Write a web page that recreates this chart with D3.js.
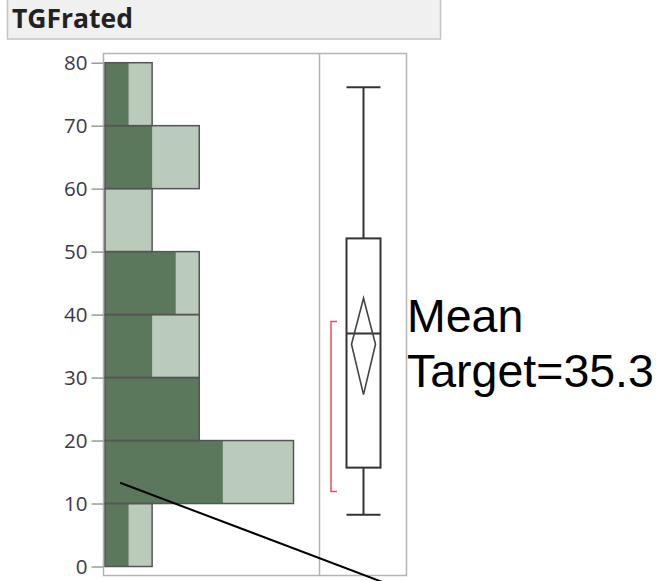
<!DOCTYPE html>
<html>
<head>
<meta charset="utf-8">
<script src="https://cdn.jsdelivr.net/npm/d3@7"></script>
<style>
  html, body { margin: 0; padding: 0; background: #fff; }
  svg { display: block; }
</style>
</head>
<body>
<div id="chart"></div>
<script>
// histogram bins (lower edge), total counts and the highlighted part
var binStarts = [0, 10, 20, 30, 40, 50, 60, 70];
var binWidth = 10;
var totalCounts = [1, 4, 2, 2, 2, 1, 2, 1];
var selectedCounts = [0.5, 2.5, 2, 1, 1.5, 0, 1, 0.5];
var yTicks = [0, 10, 20, 30, 40, 50, 60, 70, 80];

// outlier box plot summary
var boxStats = ['min', 'q1', 'median', 'q3', 'max'];
var boxValues = [8.2, 15.7, 37, 52.1, 76.1];
var meanValue = 35.3;
var meanCI = [27.3, 42.6];
var shortestHalf = [11.9, 38.9];

// annotation
var titleText = 'TGFrated';
var noteLines = ['Mean', 'Target=35.3'];
var pointerFrom = [0.32, 13.3];   // [count, value]
var pointerTo = [5.9, -2.5];

var cfg = {
    w: 661,
    h: 581,
    frameLeft: 103.5,
    frameRight: 406.5,
    divider: 319.5,
    frameTop: 53.5,
    frameBottom: 575.5,
    boxCenter: 363.5,
    boxHalf: 17,
    diamondHalf: 12
};

var svg = d3.select('#chart').append('svg')
    .attr('width', cfg.w)
    .attr('height', cfg.h);

var y = d3.scaleLinear().domain([0, 80]).range([566.5, 62.7]);
var x = d3.scaleLinear().domain([0, 4]).range([105, 293.5]);

// title bar
svg.append('rect')
    .attr('x', 7.5).attr('y', -1)
    .attr('width', 433).attr('height', 40)
    .attr('fill', '#f0f0f0')
    .attr('stroke', '#c4c4c4')
    .attr('stroke-width', 1.5);
svg.append('text')
    .attr('x', 12).attr('y', 28)
    .attr('font-family', 'Open Sans, sans-serif')
    .attr('font-weight', 'bold')
    .attr('font-size', 26.5)
    .attr('fill', '#222')
    .text(titleText);

// frame
var frame = svg.append('g').attr('fill', 'none').attr('stroke', '#b4b4b4').attr('stroke-width', 1.5);
frame.append('rect')
    .attr('x', cfg.frameLeft).attr('y', cfg.frameTop)
    .attr('width', cfg.frameRight - cfg.frameLeft)
    .attr('height', cfg.frameBottom - cfg.frameTop);
frame.append('line')
    .attr('x1', cfg.divider).attr('x2', cfg.divider)
    .attr('y1', cfg.frameTop).attr('y2', cfg.frameBottom);

// y axis
var yAxis = d3.axisLeft(y).tickValues(yTicks).tickSize(12).tickPadding(4);
svg.append('g')
    .attr('transform', 'translate(' + cfg.frameLeft + ',0)')
    .call(customYAxis);

function customYAxis(g) {
    g.call(yAxis);
    g.select('.domain').remove();
    g.selectAll('.tick line').attr('stroke', '#9a9a9a').attr('stroke-width', 1.5);
    g.selectAll('.tick text')
        .attr('font-family', 'Open Sans, sans-serif')
        .attr('font-size', 20.5)
        .attr('fill', '#3a3a4a');
}

// histogram
var bins = binStarts.map(function(d, i) {
    return { lo: d, hi: d + binWidth, total: totalCounts[i], sel: selectedCounts[i] };
});

var hist = svg.append('g').classed('hist', true);
hist.selectAll('.total')
    .data(bins)
    .enter()
    .append('rect')
    .classed('total', true)
    .attr('x', x(0))
    .attr('y', function(d) { return y(d.hi); })
    .attr('width', function(d) { return x(d.total) - x(0); })
    .attr('height', function(d) { return y(d.lo) - y(d.hi); })
    .attr('fill', '#bacbbc');
hist.selectAll('.sel')
    .data(bins)
    .enter()
    .append('rect')
    .classed('sel', true)
    .attr('x', x(0))
    .attr('y', function(d) { return y(d.hi); })
    .attr('width', function(d) { return x(d.sel) - x(0); })
    .attr('height', function(d) { return y(d.lo) - y(d.hi); })
    .attr('fill', '#5c785c');
hist.selectAll('.outline')
    .data(bins)
    .enter()
    .append('rect')
    .classed('outline', true)
    .attr('x', x(0))
    .attr('y', function(d) { return y(d.hi); })
    .attr('width', function(d) { return x(d.total) - x(0); })
    .attr('height', function(d) { return y(d.lo) - y(d.hi); })
    .attr('fill', 'none')
    .attr('stroke', '#555')
    .attr('stroke-width', 1.5);

// box plot
var st = {};
boxStats.forEach(function(k, i) { st[k] = boxValues[i]; });
var cx = cfg.boxCenter, bh = cfg.boxHalf;
var box = svg.append('g').attr('stroke', '#333').attr('stroke-width', 2).attr('fill', 'none');
box.append('line').attr('x1', cx).attr('x2', cx).attr('y1', y(st.max)).attr('y2', y(st.q3));
box.append('line').attr('x1', cx).attr('x2', cx).attr('y1', y(st.q1)).attr('y2', y(st.min));
box.append('line').attr('x1', cx - bh).attr('x2', cx + bh).attr('y1', y(st.max)).attr('y2', y(st.max));
box.append('line').attr('x1', cx - bh).attr('x2', cx + bh).attr('y1', y(st.min)).attr('y2', y(st.min));
box.append('rect')
    .attr('x', cx - bh).attr('y', y(st.q3))
    .attr('width', bh * 2).attr('height', y(st.q1) - y(st.q3));
box.append('line').attr('x1', cx - bh).attr('x2', cx + bh)
    .attr('y1', y(st.median)).attr('y2', y(st.median));

// mean diamond
var dh = cfg.diamondHalf;
box.append('path')
    .attr('d', 'M' + cx + ',' + y(meanCI[1]) +
               'L' + (cx + dh) + ',' + y(meanValue) +
               'L' + cx + ',' + y(meanCI[0]) +
               'L' + (cx - dh) + ',' + y(meanValue) + 'Z')
    .attr('stroke', '#444')
    .attr('stroke-width', 1.6);

// shortest half bracket
var bx = 331;
svg.append('path')
    .attr('d', 'M' + (bx + 6) + ',' + y(shortestHalf[1]) +
               'H' + bx + 'V' + y(shortestHalf[0]) + 'H' + (bx + 6))
    .attr('fill', 'none')
    .attr('stroke', '#f04a5c')
    .attr('stroke-width', 1.5);

// annotation text
svg.append('g').selectAll('text')
    .data(noteLines)
    .enter()
    .append('text')
    .attr('x', 407)
    .attr('y', function(d, i) { return 332 + i * 55; })
    .attr('font-family', 'Liberation Sans, Arial, sans-serif')
    .attr('font-size', 46.5)
    .attr('fill', '#000')
    .text(function(d) { return d; });

// pointer line
svg.append('line')
    .attr('x1', x(pointerFrom[0])).attr('y1', y(pointerFrom[1]))
    .attr('x2', x(pointerTo[0])).attr('y2', y(pointerTo[1]))
    .attr('stroke', '#000')
    .attr('stroke-width', 2);
</script>
</body>
</html>
